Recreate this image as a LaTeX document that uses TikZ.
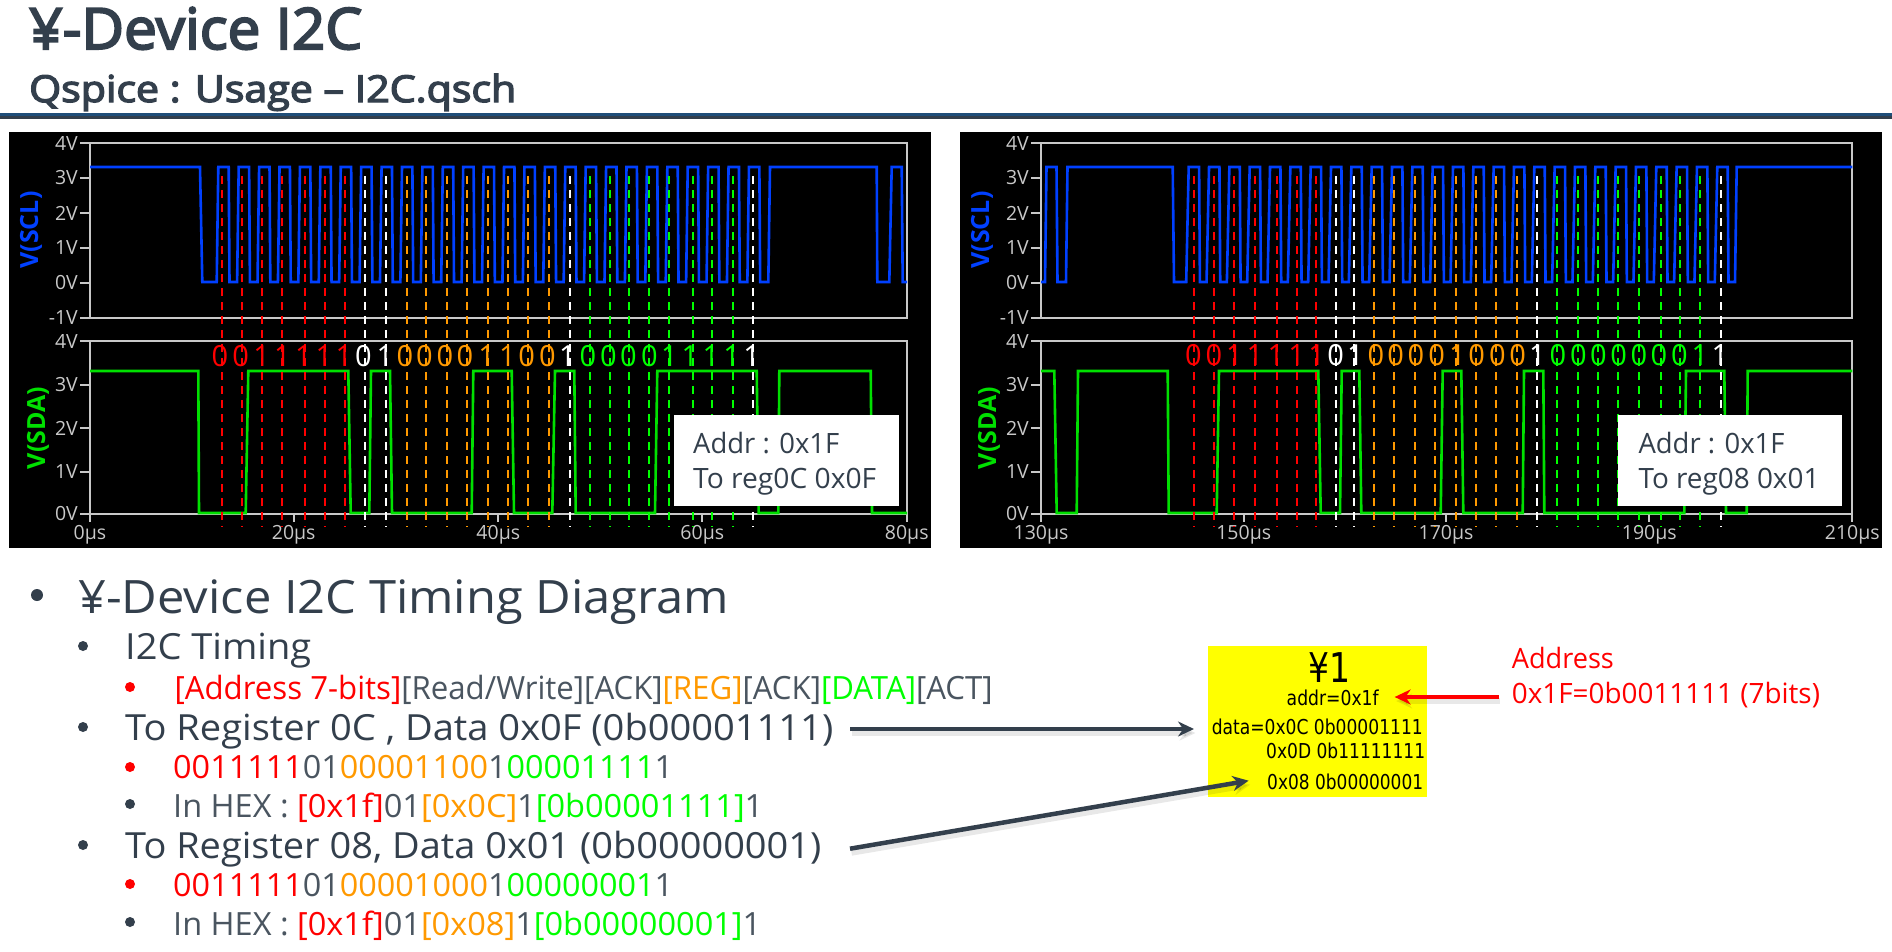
\documentclass[tikz,border=0pt]{standalone}
\usepackage{graphicx}
\usepackage{fontspec}
\usetikzlibrary{arrows.meta}
\setmainfont{Open Sans}
\newfontfamily\headfont[FakeBold=3.5]{Open Sans}
\newfontfamily\symfont{DejaVu Sans}
\definecolor{ink}{HTML}{333F4C}
\definecolor{inkthin}{HTML}{4A5560}
\definecolor{rulebar}{HTML}{1F4E79}
\definecolor{axisgrey}{HTML}{C8C8C8}
\definecolor{sclblue}{HTML}{0040FF}
\definecolor{sdagreen}{HTML}{00E000}
\definecolor{bitr}{HTML}{FF0000}
\definecolor{bitw}{HTML}{FFFFFF}
\definecolor{bito}{HTML}{FF9900}
\definecolor{bitg}{HTML}{00FF00}
\definecolor{devyellow}{HTML}{FFFF00}
\newcommand{\fitw}[2]{\resizebox{#1pt}{\height}{#2}}
\newcommand{\cR}[1]{\textcolor{bitr}{#1}}
\newcommand{\cO}[1]{\textcolor{bito}{#1}}
\newcommand{\cG}[1]{\textcolor{bitg}{#1}}
\tikzset{
 x=1pt,y=-1pt,
 panelbg/.style={fill=black,draw=none},
 axisline/.style={draw=axisgrey,line width=2.1pt},
 sclwave/.style={draw=sclblue,line width=2.6pt,line join=miter},
 sdawave/.style={draw=sdagreen,line width=2.6pt,line join=miter},
 bitdash/.style={line width=1.7pt,dash pattern=on 8pt off 6pt},
 axlab/.style={text=axisgrey,font=\fontsize{19.5}{19.5}\selectfont,inner sep=0pt},
 vlab/.style={font=\bfseries\fontsize{25}{25}\selectfont,rotate=90,inner sep=0pt},
 bitdigit/.style={font=\fontsize{29}{29}\selectfont,inner sep=0pt},
 notebox/.style={fill=white,draw=none,inner sep=0pt},
 notetxt/.style={font=\fontsize{28}{28}\selectfont,text=ink,anchor=base west,inner sep=0pt},
 hl/.style={anchor=base west,inner sep=0pt,text=ink},
 lvA/.style={hl,font=\fontsize{46}{46}\selectfont},
 lvB/.style={hl,font=\fontsize{36}{36}\selectfont},
 lvC/.style={hl,font=\fontsize{32}{32}\selectfont,text=inkthin},
 bull/.style={circle,fill=#1,inner sep=0pt,minimum size=10pt},
 symtxt/.style={font=\symfont\fontsize{20.5}{20.5}\selectfont,text=black,inner sep=0pt,anchor=base west},
 callout/.style={draw=ink,line width=4.5pt,-{Stealth[length=16pt,width=15pt]}},
 calloutred/.style={draw=bitr,line width=4.5pt,-{Stealth[length=16pt,width=15pt]}},
 softshadow/.style={draw=black,opacity=0.09,line width=6pt,-{Stealth[length=16pt,width=15pt]}},
}
\newcommand{\plotframe}[6]{
 \fill[panelbg] (#2,132) rectangle (#3,548);
 \draw[axisline] (#4,143) rectangle (#5,318);
 \draw[axisline] (#4,341) rectangle (#5,514);
 \foreach \yy/\tt in {143/4V,178/3V,213/2V,248/1V,283/0V,318/-1V}{
  \draw[axisline] (#4-10,\yy) -- (#4,\yy);
  \node[axlab,anchor=east] (#1-top-\tt) at (#4-12,\yy) {\tt};
 }
 \foreach \yy/\tt in {341/4V,385/3V,428/2V,472/1V,514/0V}{
  \draw[axisline] (#4-10,\yy) -- (#4,\yy);
  \node[axlab,anchor=east] (#1-bot-\tt) at (#4-12,\yy) {\tt};
 }
 \foreach \xx/\tt [count=\ii] in {#6}{
  \draw[axisline] (\xx,514) -- (\xx,522);
  \node[axlab] (#1-time-\ii) at (\xx,535) {\tt};
 }
}
\newcommand{\dashes}[2]{\foreach \xx in {#2}{\draw[bitdash,draw=bit#1] (\xx,176) -- (\xx,527);}}
\begin{document}
\begin{tikzpicture}
\useasboundingbox (0,0) rectangle (1892,951);
\fill[white] (0,0) rectangle (1892,951);

% heading
\node[hl,font=\headfont\fontsize{57}{57}\selectfont] (title) at (29,49) {\fitw{333}{¥-Device I2C}};
\node[hl,font=\headfont\fontsize{37}{37}\selectfont] (subtitle) at (29,102) {\fitw{487}{Qspice : Usage – I2C.qsch}};
\fill[rulebar] (0,113) rectangle (1892,116);
\fill[ink] (0,116) rectangle (1892,119);

% ---------- left plot ----------
\plotframe{pa}{9}{931}{90}{907}{90/0µs,293.7/20µs,498.3/40µs,702.3/60µs,906.7/80µs}
\node[vlab,text=sclblue] (pa-scl) at (31,230) {V(SCL)};
\node[vlab,text=sdagreen] (pa-sda) at (38,428) {V(SDA)};
\draw[sclwave] (90,167) -- (200,167) -- (202.3,282)
  \foreach \k in {0,...,26}{ -- ({218.3+\k*20.41-1.6},282) -- ({218.3+\k*20.41},167) -- ({218.3+\k*20.41+10.4},167) -- ({218.3+\k*20.41+11.2},282) }
  -- (768.3,282) -- (770,167) -- (876.7,167) -- (877.3,282) -- (889.3,282) -- (891.7,167) -- (901.7,167) -- (902.7,282) -- (907,282);
\draw[sdawave] (90,371) -- (198.3,371) -- (199,513) -- (245.7,513) -- (248.3,371) -- (348.3,371) -- (350.7,513) -- (369.3,513) -- (371,371) -- (390,371) -- (392,513) -- (471.7,513) -- (473.3,371) -- (511.7,371) -- (514,513) -- (552.3,513) -- (555,371) -- (574.3,371) -- (575.7,513) -- (655,513) -- (657.3,371) -- (756.7,371) -- (758.7,513) -- (778.3,513) -- (779.3,371) -- (870.7,371) -- (872,513) -- (907,513);
\dashes{r}{222,242,262,282,305,325,345}
\dashes{w}{365,386,570,753}
\dashes{o}{406.7,426,447,467.3,488,508,528,549}
\dashes{g}{590,610,629,649,669,693,712,733}
\foreach \xx/\bb/\cc [count=\ii] in {220/0/r,240.7/0/r,261.7/1/r,282.3/1/r,303.3/1/r,324/1/r,344/1/r,363.3/0/w,385/1/w,405/0/o,424.3/0/o,445/0/o,465/0/o,486.7/1/o,507.3/1/o,526.7/0/o,547.3/0/o,567.3/1/w,588/0/g,608.3/0/g,628.3/0/g,649.3/0/g,669.3/1/g,690/1/g,711/1/g,731.7/1/g,751.7/1/w}
  \node[bitdigit,text=bit\cc] (pa-bit-\ii) at (\xx,356) {\bb};
\fill[notebox] (674,415) rectangle (899,506);
\node[notetxt] (pa-n1) at (693,453) {\fitw{146}{Addr : 0x1F}};
\node[notetxt] (pa-n2) at (693,488) {\fitw{183}{To reg0C 0x0F}};

% ---------- right plot ----------
\plotframe{pb}{960}{1882}{1041}{1852.3}{1041/130µs,1243.7/150µs,1446/170µs,1649.3/190µs,1852.3/210µs}
\node[vlab,text=sclblue] (pb-scl) at (982,230) {V(SCL)};
\node[vlab,text=sdagreen] (pb-sda) at (989,428) {V(SDA)};
\draw[sclwave] (1041,282) -- (1045,282) -- (1046.5,167) -- (1056.5,167) -- (1057.5,282) -- (1066,282) -- (1067.5,167) -- (1172.7,167) -- (1174,282)
  \foreach \k in {0,...,26}{ -- ({1188.7+\k*20.33-2.5},282) -- ({1188.7+\k*20.33},167) -- ({1188.7+\k*20.33+10.4},167) -- ({1188.7+\k*20.33+11.2},282) }
  -- (1735,282) -- (1736.7,167) -- (1852.3,167);
\draw[sdawave] (1041,371) -- (1054.3,371) -- (1056.7,513) -- (1076.7,513) -- (1078,371) -- (1167.7,371) -- (1168.7,513) -- (1216.7,513) -- (1219,371) -- (1318.3,371) -- (1320.7,513) -- (1340,513) -- (1341.7,371) -- (1359.3,371) -- (1361.3,513) -- (1440.7,513) -- (1442.7,371) -- (1461.3,371) -- (1463.3,513) -- (1522.7,513) -- (1524,371) -- (1543.3,371) -- (1544.3,513) -- (1684.3,513) -- (1686,371) -- (1724.3,371) -- (1726,513) -- (1746.7,513) -- (1747.7,371) -- (1852.3,371);
\dashes{r}{1194,1214,1234,1255,1277,1297,1316}
\dashes{w}{1336,1354,1537,1721}
\dashes{o}{1374,1394,1415,1434.7,1456,1476,1496,1517}
\dashes{g}{1557,1578,1598,1618,1639,1661,1680,1700}
\foreach \xx/\bb/\cc [count=\ii] in {1193.3/0/r,1214/0/r,1234.3/1/r,1255/1/r,1276/1/r,1296.7/1/r,1316.7/1/r,1335.7/0/w,1355.3/1/w,1376/0/o,1395.7/0/o,1416/0/o,1436.7/0/o,1457.3/1/o,1476.7/0/o,1497.3/0/o,1517.7/0/o,1537.3/1/w,1558/0/g,1578.3/0/g,1598.3/0/g,1618.7/0/g,1639/0/g,1659/0/g,1679.3/0/g,1700/1/g,1720/1/w}
  \node[bitdigit,text=bit\cc] (pb-bit-\ii) at (\xx,355) {\bb};
\fill[notebox] (1617.7,415) rectangle (1842,506);
\node[notetxt] (pb-n1) at (1638.3,453) {\fitw{146}{Addr : 0x1F}};
\node[notetxt] (pb-n2) at (1638.3,488) {\fitw{181}{To reg08 0x01}};

% ---------- bullet list ----------
\node[bull=ink,minimum size=12pt] (b1) at (37,595) {};
\node[lvA] (t1) at (78,613) {\fitw{651}{¥-Device I2C Timing Diagram}};
\node[bull=ink] (b2) at (83,646) {};
\node[lvB] (t2) at (125,659) {\fitw{186}{I2C Timing}};
\node[bull=bitr] (b3) at (130,687) {};
\node[lvC] (t3) at (174.4,699) {\fitw{818}{\cR{[Address 7-bits]}[Read/Write][ACK]\cO{[REG]}[ACK]\cG{[DATA]}[ACT]}};
\node[bull=ink] (b4) at (83,727) {};
\node[lvB] (t4) at (125,740) {\fitw{708}{To Register 0C , Data 0x0F (0b00001111)}};
\node[bull=bitr] (b5) at (130,767) {};
\node[lvC] (t5) at (173,778) {\fitw{500}{\cR{0011111}01\cO{00001100}1\cG{00001111}1}};
\node[bull=ink] (b6) at (130,804) {};
\node[lvC] (t6) at (173,817) {\fitw{590}{In HEX : \cR{[0x1f]}01\cO{[0x0C]}1\cG{[0b00001111]}1}};
\node[bull=ink] (b7) at (83,845) {};
\node[lvB] (t7) at (125,858) {\fitw{696}{To Register 08, Data 0x01 (0b00000001)}};
\node[bull=bitr] (b8) at (130,884) {};
\node[lvC] (t8) at (173,896) {\fitw{500}{\cR{0011111}01\cO{00001000}1\cG{00000001}1}};
\node[bull=ink] (b9) at (130,922) {};
\node[lvC] (t9) at (173,935) {\fitw{588}{In HEX : \cR{[0x1f]}01\cO{[0x08]}1\cG{[0b00000001]}1}};

% ---------- yellow symbol ----------
\node[fill=devyellow,minimum width=219pt,minimum height=151pt,inner sep=0pt,anchor=north west] (dev) at (1208,646) {};
\node[font=\symfont\fontsize{41}{41}\selectfont,text=black,anchor=base west,inner sep=0pt] (devname) at (1308,682) {\fitw{42}{¥1}};
\node[symtxt] (devaddr) at (1286.5,705) {\fitw{92}{addr=0x1f}};
\node[symtxt] (devd1) at (1211.6,734) {\fitw{211}{data=0x0C 0b00001111}};
\node[symtxt] (devd2) at (1266,758) {\fitw{159}{0x0D 0b11111111}};
\node[symtxt] (devd3) at (1267,789) {\fitw{156}{0x08 0b00000001}};

\node[hl,text=bitr,font=\fontsize{28}{28}\selectfont] (addrA) at (1511.7,668) {\fitw{102}{Address}};
\node[hl,text=bitr,font=\fontsize{28}{28}\selectfont] (addrB) at (1511.7,703) {\fitw{308}{0x1F=0b0011111 (7bits)}};

% ---------- arrows ----------
\coordinate (a1s) at (850,729);
\coordinate (a1e) at (1194,729);
\coordinate (a2s) at (850,848.7);
\coordinate (a2e) at (1248.6,780.7);
\coordinate (a3s) at (1498.6,697);
\coordinate (a3e) at (1394.6,697);
\foreach \aa/\bb in {a1s/a1e,a2s/a2e,a3s/a3e}
  \draw[softshadow,transform canvas={shift={(1.5pt,-4pt)}}] (\aa) -- (\bb);
\draw[callout] (a1s) -- (a1e);
\draw[callout] (a2s) -- (a2e);
\draw[calloutred] (a3s) -- (a3e);
\end{tikzpicture}
\end{document}
